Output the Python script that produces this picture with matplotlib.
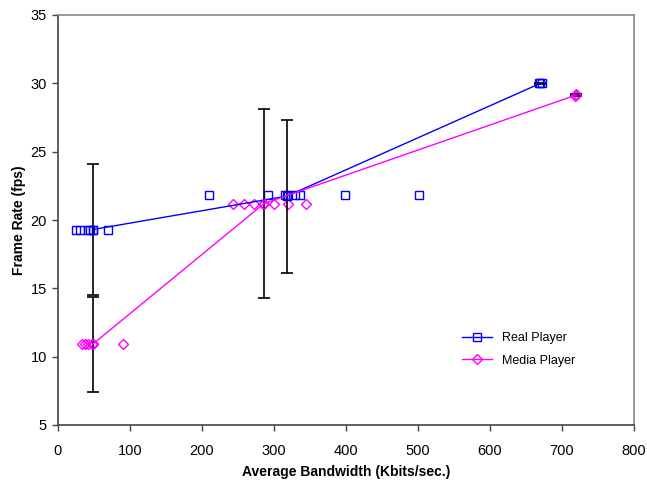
import matplotlib.pyplot as plt

plt.rcParams['font.family'] = ['Liberation Sans', 'DejaVu Sans']

# raw measurements (markers only)
real_x = [25, 30, 41, 45, 48, 69, 210, 292, 315, 320, 329, 336, 398, 501, 668, 672]
real_y = [19.3, 19.3, 19.3, 19.3, 19.3, 19.3, 21.8, 21.8, 21.8, 21.8, 21.8, 21.8, 21.8, 21.8, 30.0, 30.0]
media_x = [34, 38, 41, 47, 49, 90, 243, 258, 272, 285, 300, 320, 344, 718, 720]
media_y = [10.9, 10.9, 10.9, 10.9, 10.9, 10.9, 21.2, 21.2, 21.2, 21.2, 21.2, 21.2, 21.2, 29.1, 29.2]

# averages with std deviation
real_mean_x = [48, 318, 670]
real_mean_y = [19.3, 21.75, 30.0]
real_err = [4.8, 5.6, 0.05]
media_mean_x = [48, 286, 720]
media_mean_y = [10.9, 21.2, 29.15]
media_err = [3.5, 6.9, 0.05]

fig = plt.figure(figsize=(6.47, 4.83), dpi=100)
ax = fig.add_axes([58 / 647, 58 / 483, 576 / 647, 410 / 483])

ax.plot(real_x, real_y, ls='none', marker='s', ms=5.5, mfc='none', mec='blue', mew=1)
ax.plot(media_x, media_y, ls='none', marker='D', ms=5, mfc='none', mec='magenta', mew=1)

ax.errorbar(real_mean_x, real_mean_y, yerr=real_err, fmt='none', ecolor='black', elinewidth=1.2, capsize=4, capthick=1.2)
ax.errorbar(media_mean_x, media_mean_y, yerr=media_err, fmt='none', ecolor='black', elinewidth=1.2, capsize=4, capthick=1.2)

ax.plot(real_mean_x, real_mean_y, color='blue', lw=1, marker='s', ms=5.5, mfc='none', mec='blue', mew=1, label='Real Player')
ax.plot(media_mean_x, media_mean_y, color='magenta', lw=1, marker='D', ms=5, mfc='none', mec='magenta', mew=1, label='Media Player')

ax.set_xlim(0, 800)
ax.set_ylim(5, 35)
ax.set_xticks(range(0, 801, 100))
ax.set_yticks(range(5, 36, 5))
for s in ('top', 'right'):
    ax.spines[s].set_color('#888888')
    ax.spines[s].set_linewidth(1.2)
for s in ('left', 'bottom'):
    ax.spines[s].set_color('#444444')
    ax.spines[s].set_linewidth(1.2)
ax.tick_params(direction='out', length=4, width=1, colors='#444444', labelcolor='black', labelsize=10.5)
ax.tick_params(axis='x', pad=10)
ax.tick_params(axis='y', pad=4)

ax.set_xlabel('Average Bandwidth (Kbits/sec.)', fontsize=10, fontweight='bold', labelpad=5)
ax.set_ylabel('Frame Rate (fps)', fontsize=10, fontweight='bold', labelpad=3)

ax.legend(loc='lower right', bbox_to_anchor=(0.918, 0.115), frameon=False, fontsize=9,
          handlelength=2.4, labelspacing=0.85)

fig.savefig('out.png', dpi=100)
